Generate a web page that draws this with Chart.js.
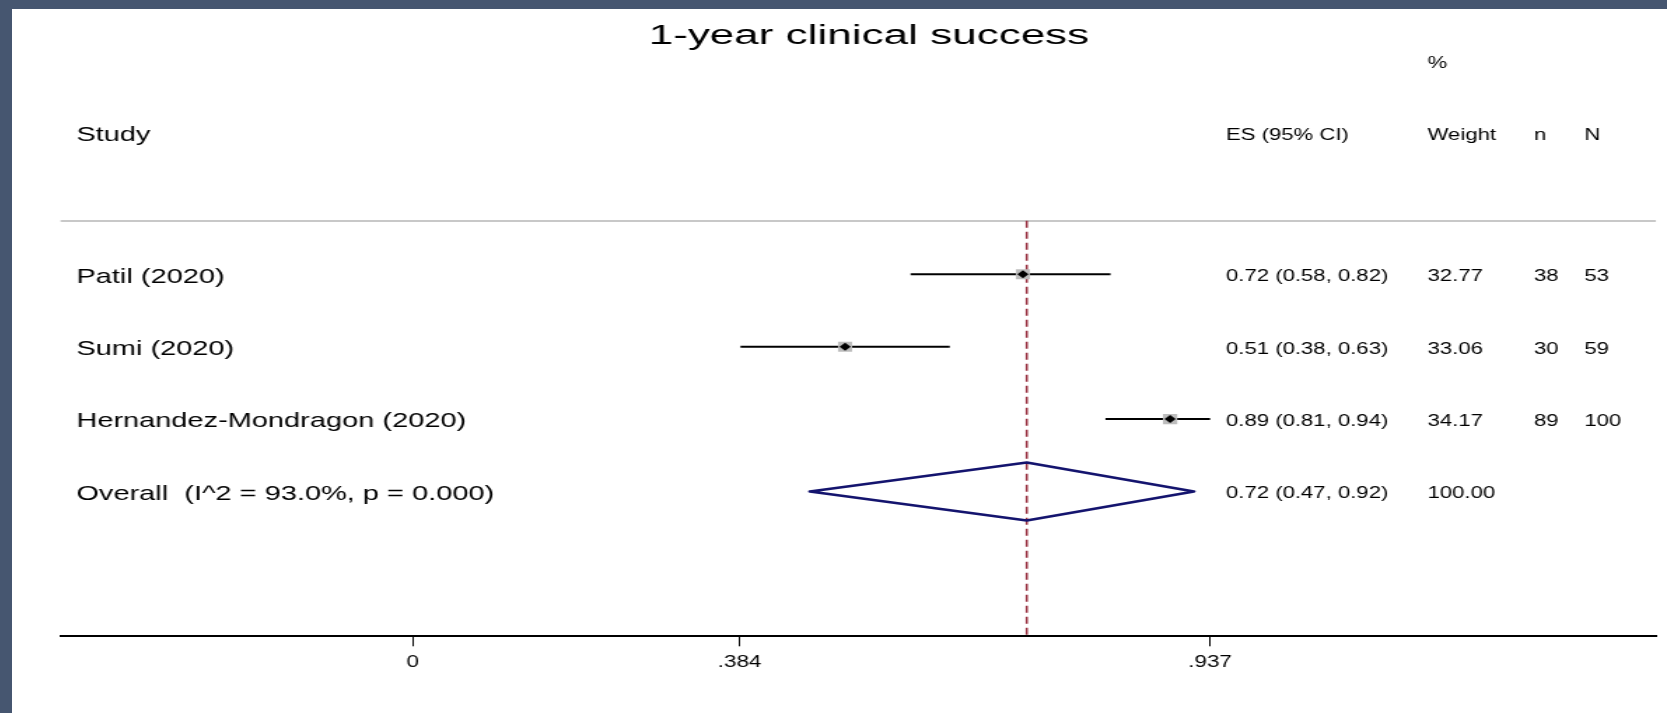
<!DOCTYPE html>
<html>
<head>
<meta charset="utf-8">
<script src="https://cdn.jsdelivr.net/npm/chart.js@4.4.1/dist/chart.umd.min.js"></script>
<style>
    html, body { margin: 0; padding: 0; }
    body { width: 1667px; height: 713px; background: #465670; overflow: hidden; position: relative; }
    #frame { position: absolute; left: 12px; top: 9px; width: 1655px; height: 704px; background: #fff; overflow: hidden; }
    #forest { display: block; transform-origin: 0 0; }
</style>
</head>
<body>
<div id="frame"><canvas id="forest" width="1182" height="704"></canvas></div>
<script>
// DATA
const chartTitle = "1-year clinical success";
const studies = ["Patil (2020)", "Sumi (2020)", "Hernandez-Mondragon (2020)"];
const overallLabel = "Overall  (I^2 = 93.0%, p = 0.000)";
const es = [0.717, 0.508, 0.890];
const ciLow = [0.585, 0.385, 0.814];
const ciHigh = [0.820, 0.631, 0.937];
const weights = [32.77, 33.06, 34.17];
const esText = ["0.72 (0.58, 0.82)", "0.51 (0.38, 0.63)", "0.89 (0.81, 0.94)"];
const weightText = ["32.77", "33.06", "34.17"];
const nText = ["38", "30", "89"];
const bigNText = ["53", "59", "100"];
const overallES = 0.7215;
const overallLow = 0.4666;
const overallHigh = 0.918;
const overallEsText = "0.72 (0.47, 0.92)";
const overallWeightText = "100.00";
const tickValues = [0, 0.384, 0.937];
const tickLabels = ["0", ".384", ".937"];
const xMin = -0.414;
const xMax = 1.461;

// LAYOUT
const STRETCH = 1655 / 1182;   // picture is stretched sideways
const FONT = "'Liberation Sans', Arial, sans-serif";
const studyRows = studies.map((s, i) => i + 1);
const overallRow = studies.length + 1;
const headerRow = -0.95;
const percentRow = -1.95;
const separatorRow = 0.26;
const diamondHalf = 0.4;
const textShift = 2.5;   // 'middle' baseline sits a bit high for this font
const col = { label: 46, es: 867, weight: 1011, n: 1087, N: 1123 };

document.getElementById('forest').style.transform = 'scaleX(' + STRETCH + ')';

// DATASETS (first one is drawn on top)
const datasets = [];

datasets.push({
    type: 'scatter',
    data: es.map((v, i) => ({ x: v, y: studyRows[i] })),
    pointStyle: 'rectRot', pointRadius: 4, backgroundColor: '#000', borderWidth: 0
});

datasets.push({
    type: 'scatter',
    data: es.map((v, i) => ({ x: v, y: studyRows[i] })),
    pointStyle: 'rect',
    pointRadius: weights.map(w => 7.1 * Math.sqrt(w / 33)),
    backgroundColor: '#bdbdbd', borderWidth: 0
});

studies.forEach((s, i) => {
    datasets.push({
        type: 'line',
        data: [{ x: ciLow[i], y: studyRows[i] }, { x: ciHigh[i], y: studyRows[i] }],
        borderColor: '#000', borderWidth: 2, pointRadius: 0, tension: 0
    });
});

datasets.push({
    type: 'line',
    data: [
        { x: overallES, y: overallRow - diamondHalf },
        { x: overallHigh, y: overallRow },
        { x: overallES, y: overallRow + diamondHalf },
        { x: overallLow, y: overallRow },
        { x: overallES, y: overallRow - diamondHalf }
    ],
    borderColor: '#14146e', borderWidth: 2.5, borderJoinStyle: 'round', borderCapStyle: 'round',
    pointRadius: 0, tension: 0, fill: false
});

datasets.push({
    type: 'line',
    data: [{ x: overallES, y: separatorRow }, { x: overallES, y: 6 }],
    borderColor: '#9a3444', borderWidth: 1.6, borderDash: [7, 4], pointRadius: 0, tension: 0
});

// TEXT + HEADER LINE
const forestText = {
    id: 'forestText',
    beforeDatasetsDraw(chart) {
        const { ctx, chartArea, scales: { y } } = chart;
        const yy = Math.round(y.getPixelForValue(separatorRow));
        ctx.save();
        ctx.strokeStyle = '#c8c8c8';
        ctx.lineWidth = 2;
        ctx.beginPath();
        ctx.moveTo(chartArea.left, yy);
        ctx.lineTo(chartArea.right, yy);
        ctx.stroke();
        ctx.restore();
    },
    afterDraw(chart) {
        const { ctx, chartArea, scales: { x, y } } = chart;
        const rowY = v => y.getPixelForValue(v) + textShift;
        ctx.save();
        ctx.fillStyle = '#000';
        ctx.textBaseline = 'middle';
        ctx.textAlign = 'left';

        // title
        ctx.save();
        ctx.font = '27px ' + FONT;
        ctx.textAlign = 'center';
        ctx.textBaseline = 'alphabetic';
        ctx.translate(612, 34.5);
        ctx.scale(1.165, 1);
        ctx.fillText(chartTitle, 0, 0);
        ctx.restore();

        // left column
        ctx.font = '20.7px ' + FONT;
        ctx.fillText('Study', col.label, rowY(headerRow));
        studies.forEach((s, i) => ctx.fillText(s, col.label, rowY(studyRows[i])));
        ctx.fillText(overallLabel, col.label, rowY(overallRow));

        // right columns
        ctx.font = '15.8px ' + FONT;
        ctx.fillText('%', col.weight, rowY(percentRow));
        const hy = rowY(headerRow);
        ctx.fillText('ES (95% CI)', col.es, hy);
        ctx.fillText('Weight', col.weight, hy);
        ctx.fillText('n', col.n, hy);
        ctx.fillText('N', col.N, hy);
        studies.forEach((s, i) => {
            const ry = rowY(studyRows[i]);
            ctx.fillText(esText[i], col.es, ry);
            ctx.fillText(weightText[i], col.weight, ry);
            ctx.fillText(nText[i], col.n, ry);
            ctx.fillText(bigNText[i], col.N, ry);
        });
        const oy = rowY(overallRow);
        ctx.fillText(overallEsText, col.es, oy);
        ctx.fillText(overallWeightText, col.weight, oy);

        // tick labels
        ctx.font = '16px ' + FONT;
        ctx.textAlign = 'center';
        tickValues.forEach((v, i) => ctx.fillText(tickLabels[i], x.getPixelForValue(v), chartArea.bottom + 26));
        ctx.restore();
    }
};

new Chart(document.getElementById('forest'), {
    type: 'scatter',
    data: { datasets },
    options: {
        responsive: false,
        animation: false,
        layout: { padding: { left: 34.7, right: 7.9, top: 11.9, bottom: 66.7 } },
        plugins: { legend: { display: false }, tooltip: { enabled: false }, title: { display: false } },
        scales: {
            x: {
                type: 'linear', min: xMin, max: xMax,
                afterBuildTicks: axis => { axis.ticks = tickValues.map(v => ({ value: v })); },
                ticks: { display: false },
                grid: { display: true, drawOnChartArea: false, drawTicks: true, tickLength: 10, color: '#000', lineWidth: 1 },
                border: { display: true, color: '#000', width: 2 }
            },
            y: { type: 'linear', display: false, reverse: true, min: -2.5, max: 6 }
        }
    },
    plugins: [forestText]
});
</script>
</body>
</html>
